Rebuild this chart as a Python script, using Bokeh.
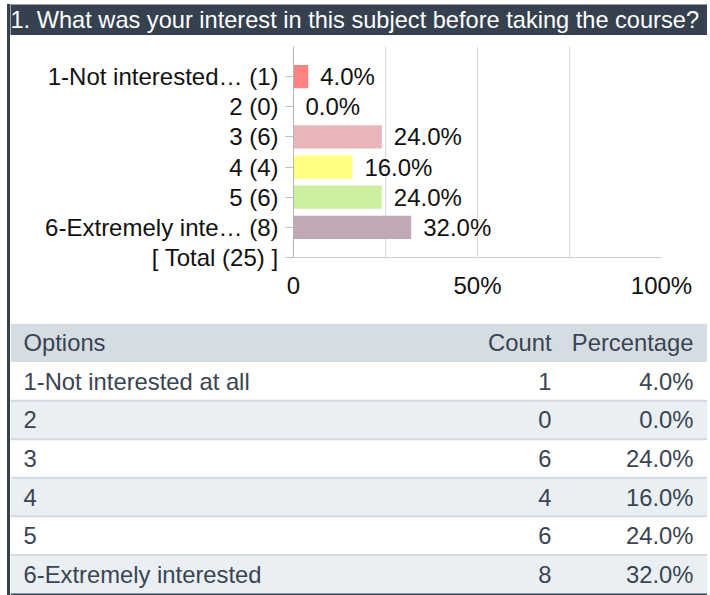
from bokeh.plotting import figure
from bokeh.models import Range1d, FixedTicker, ColumnDataSource
from bokeh.core.properties import value
from bokeh.embed import file_html
from bokeh.resources import INLINE

# ---------------- data ----------------
title_text = "1. What was your interest in this subject before taking the course?"
options = ["1-Not interested at all", "2", "3", "4", "5", "6-Extremely interested"]
short_names = ["1-Not interested\u2026", "2", "3", "4", "5", "6-Extremely inte\u2026"]
counts = [1, 0, 6, 4, 6, 8]
bar_colors = ["#ff8282", "#f4a3a3", "#e8b5b9", "#ffff80", "#ccefa0", "#bfa9b6"]
x_tick_values = [0, 50, 100]
x_tick_labels = ["0", "50%", "100%"]
x_minor_values = [25, 75]
table_headers = ["Options", "Count", "Percentage"]

total = sum(counts)
pcts = [c / total * 100 for c in counts]
pct_labels = [f"{p:.1f}%" for p in pcts]
axis_labels = [f"{s} ({c})" for s, c in zip(short_names, counts)] + [f"[ Total ({total}) ]"]

FONT_NAME = "Liberation Sans"
FONT = value(FONT_NAME)
DARK = "#36414f"
TEXT = "#3a4452"
W = 700
root_style = {"margin-left": "7px", "border-left": f"3px solid {DARK}"}

# ---------------- header ----------------
hdr = figure(width=W, height=31, x_range=Range1d(0, W), y_range=Range1d(0, 1),
             output_backend="svg", toolbar_location=None,
             x_axis_location=None, y_axis_location=None, min_border=0,
             styles=dict(root_style, **{"margin-top": "4px"}))
hdr.background_fill_color = DARK
hdr.border_fill_color = DARK
hdr.outline_line_color = None
hdr.grid.visible = False
hdr.text(x=[0], y=[0.5], text=[title_text], text_font=FONT, text_font_size="23.6px",
         text_color="#ffffff", text_baseline="middle", text_align="left")

# ---------------- bar chart ----------------
n = len(axis_labels)
ypos = list(range(len(counts)))
src = ColumnDataSource(dict(y=ypos, right=pcts, color=bar_colors, lab=pct_labels))

p = figure(width=W, height=288, x_range=Range1d(0, 100), y_range=Range1d(n - 1, -1),
           output_backend="svg", toolbar_location=None,
           min_border_left=283, min_border_right=W - 283 - 368, min_border_top=11,
           min_border_bottom=66, styles=root_style)
p.outline_line_color = None
p.hbar(y="y", left=0, right="right", height=0.77, color="color", line_color=None, source=src)
p.text(x="right", y="y", text="lab", source=src, x_offset=12, text_baseline="middle",
       text_align="left", text_font=FONT, text_font_size="24px", text_color="#111111")

p.xaxis.ticker = FixedTicker(ticks=x_tick_values, minor_ticks=x_minor_values)
p.xaxis.major_label_overrides = {v: l for v, l in zip(x_tick_values, x_tick_labels)}
p.xaxis.major_tick_out = 0
p.xaxis.major_tick_in = 0
p.xaxis.minor_tick_out = 0
p.xaxis.minor_tick_in = 0
p.xaxis.axis_line_color = "#d0d0d0"
p.xaxis.major_label_standoff = 14
p.xaxis.major_label_text_font = FONT_NAME
p.xaxis.major_label_text_font_size = "24px"
p.xaxis.major_label_text_color = "#111111"

p.xgrid.grid_line_color = "#d9d9d9"
p.xgrid.minor_grid_line_color = "#d9d9d9"
p.ygrid.grid_line_color = None

p.yaxis.ticker = FixedTicker(ticks=list(range(n)))
p.yaxis.major_label_overrides = {i: l for i, l in enumerate(axis_labels)}
p.yaxis.axis_line_color = "#b4b4b4"
p.yaxis.major_tick_line_color = "#c0c0c0"
p.yaxis.major_tick_out = 8
p.yaxis.major_tick_in = 0
p.yaxis.minor_tick_out = 0
p.yaxis.minor_tick_in = 0
p.yaxis.major_label_standoff = 7
p.yaxis.major_label_text_font = FONT_NAME
p.yaxis.major_label_text_font_size = "24px"
p.yaxis.major_label_text_color = "#111111"

# ---------------- table ----------------
nrows = len(options) + 1
tb = figure(width=W, height=272, x_range=Range1d(0, W), y_range=Range1d(nrows + 0.052, 0),
            output_backend="svg", toolbar_location=None,
            x_axis_location=None, y_axis_location=None, min_border=0,
            styles=root_style)
tb.outline_line_color = None
tb.grid.visible = False
row_top = list(range(nrows))
row_fill = ["#d5dde2"] + ["#ffffff" if i % 2 == 0 else "#eaeff3" for i in range(len(options))]
tb.quad(left=0, right=W, top=row_top, bottom=[t + 1 for t in row_top], fill_color=row_fill,
        line_color=None)
tb.segment(x0=0, x1=W, y0=list(range(2, nrows)), y1=list(range(2, nrows)),
           line_color="#d3dae0", line_width=2)
tb.quad(left=0, right=W, top=[nrows], bottom=[nrows + 0.06], fill_color=DARK, line_color=None)

ymid = [i + 0.5 for i in range(nrows)]
col1 = [table_headers[0]] + options
col2 = [table_headers[1]] + [str(c) for c in counts]
col3 = [table_headers[2]] + pct_labels
tb.text(x=13, y=ymid, text=col1, text_font=FONT, text_font_size="23.8px", text_color=TEXT,
        text_baseline="middle", text_align="left")
tb.text(x=541, y=ymid, text=col2, text_font=FONT, text_font_size="23.8px", text_color=TEXT,
        text_baseline="middle", text_align="right")
tb.text(x=683, y=ymid, text=col3, text_font=FONT, text_font_size="23.8px", text_color=TEXT,
        text_baseline="middle", text_align="right")

open("out.html", "w").write(file_html([hdr, p, tb], INLINE))
